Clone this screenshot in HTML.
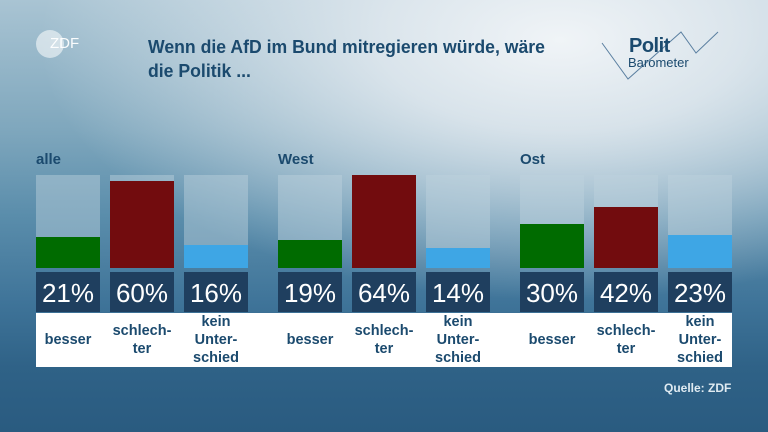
<!DOCTYPE html>
<html><head><meta charset="utf-8"><style>
*{margin:0;padding:0;box-sizing:border-box}
body{width:768px;height:432px;overflow:hidden;font-family:"Liberation Sans","DejaVu Sans",sans-serif}
#bg{position:absolute;left:0;top:0;width:768px;height:432px;
background:
radial-gradient(ellipse 520px 260px at 560px 40px, rgba(240,244,247,1) 0%, rgba(225,233,239,0.9) 35%, rgba(200,215,225,0) 100%),
linear-gradient(180deg,#a9c4d3 0%,#7fa7bd 30%,#5a8dab 50%,#3f7499 70%,#2f6287 85%,#2a5b80 100%);}
.abs{position:absolute}
.title{left:148px;top:35px;font-size:18px;font-weight:bold;color:#1b4a6e;line-height:24px;transform:scaleX(0.98);transform-origin:left}
.grp{font-size:15px;font-weight:bold;color:#1b4a6e;top:151px}
.bg{background:rgba(190,210,222,0.45);width:64px;height:93px;top:175px}
.bar{width:64px}
.pct{width:64px;height:40px;top:272px;background:#1f3f5f;color:#fff;font-size:26px;text-align:center;line-height:43px}
.white{left:36px;top:313px;width:696px;height:54px;background:#fff}
.lab{width:64px;text-align:center;color:#1b4a6e;font-weight:bold;font-size:14.5px;line-height:18px;display:flex;align-items:center;justify-content:center;height:54px;top:313px}
</style></head><body>
<div id="bg"></div>
<div class="abs" style="left:36px;top:30px;width:28px;height:28px;border-radius:50%;background:rgba(255,255,255,0.55)"></div>
<div class="abs" style="left:50px;top:35px;font-size:15px;color:rgba(255,255,255,0.95)">ZDF</div>
<div class="abs title">Wenn die AfD im Bund mitregieren würde, wäre<br>die Politik ...</div>
<svg class="abs" style="left:0;top:0" width="768" height="100"><polyline points="602,43 628,79 681,32 696,53 718,32" fill="none" stroke="#5a7fa0" stroke-width="1"/></svg>
<div class="abs" style="left:629px;top:35px;font-size:20px;font-weight:bold;color:#1b4a6e;letter-spacing:-0.5px">Polit</div>
<div class="abs" style="left:628px;top:55px;font-size:13px;color:#1b4a6e">Barometer</div>
<div class="abs grp" style="left:36px">alle</div>
<div class="abs grp" style="left:278px">West</div>
<div class="abs grp" style="left:520px">Ost</div>
<div class="abs white"></div>
<div id="c"></div>
<div class="abs" style="left:664px;top:381px;font-size:12px;font-weight:bold;color:#e0ebf2">Quelle: ZDF</div>
<script>
var d=[[21,60,16],[19,64,14],[30,42,23]],col=["#006b00","#720c0e","#3ea6e5"],labs=["besser","schlech-<br>ter","kein<br>Unter-<br>schied"],h="";
for(var g=0;g<3;g++)for(var i=0;i<3;i++){var x=36+g*242+i*74,v=d[g][i],bh=Math.round(v/64*93);
h+='<div class="abs bg" style="left:'+x+'px"></div>';
h+='<div class="abs bar" style="left:'+x+'px;top:'+(268-bh)+'px;height:'+bh+'px;background:'+col[i]+'"></div>';
h+='<div class="abs pct" style="left:'+x+'px">'+v+'%</div>';
h+='<div class="abs lab" style="left:'+(x-4)+'px;width:72px">'+labs[i]+'</div>';}
document.getElementById("c").innerHTML=h;
</script>
</body></html>
